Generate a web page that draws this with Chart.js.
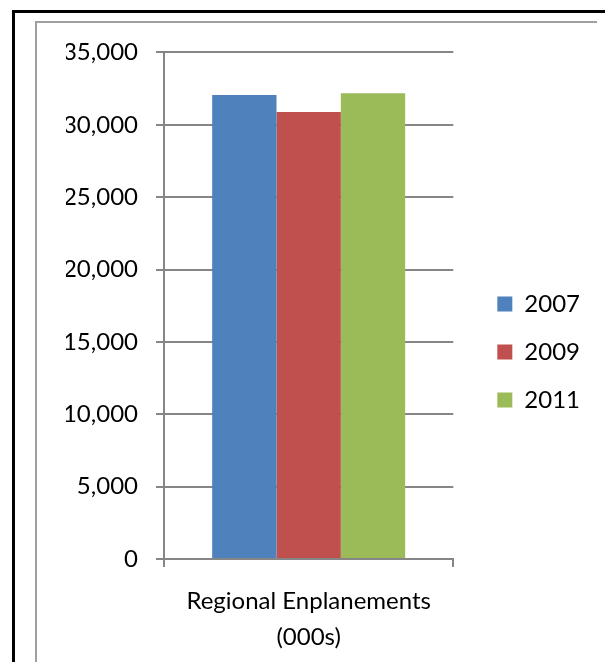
<!DOCTYPE html>
<html lang="en">
<head>
    <meta charset="UTF-8">
    <title>Regional Enplanements</title>
    <script src="https://cdn.jsdelivr.net/npm/chart.js"></script>
    <style>
        body {
            margin: 0;
            background: #fff;
            width: 605px;
            height: 662px;
            overflow: hidden;
            position: relative;
        }
        #outer {
            position: absolute;
            left: 12px;
            top: 10px;
            width: 600px;
            height: 660px;
            border-left: 3px solid #000;
            border-top: 3px solid #000;
        }
        #inner {
            position: absolute;
            left: 35px;
            top: 21px;
            width: 560px;
            height: 640px;
            border-left: 2px solid #a0a0a0;
            border-top: 2px solid #a0a0a0;
        }
        #box {
            position: absolute;
            left: 38px;
            top: 20px;
            width: 558px;
            height: 651px;
        }
    </style>
</head>
<body>
    <div id="outer"></div>
    <div id="inner"></div>
    <div id="box"><canvas id="chart"></canvas></div>

    <script>
        // data
        const categories = [['Regional Enplanements', '(000s)']];
        const years = ['2007', '2009', '2011'];
        const values2007 = [32050];
        const values2009 = [30880];
        const values2011 = [32180];
        const colors = ['#4F81BD', '#C0504D', '#9BBB59'];

        const gridColor = '#868686';
        const font = { family: 'Lato, "DejaVu Sans", sans-serif', size: 24 };

        // moves the legend a bit to the right, away from the plot
        const legendShift = {
            id: 'legendShift',
            afterLayout(chart) {
                const l = chart.legend;
                if (l) {
                    l.left += 20;
                    l.right += 20;
                    l.top += 3;
                    l.bottom += 3;
                }
            }
        };

        const ctx = document.getElementById('chart').getContext('2d');
        new Chart(ctx, {
            type: 'bar',
            data: {
                labels: categories,
                datasets: [
                    { label: years[0], data: values2007, backgroundColor: colors[0] },
                    { label: years[1], data: values2009, backgroundColor: colors[1] },
                    { label: years[2], data: values2011, backgroundColor: colors[2] }
                ]
            },
            options: {
                responsive: true,
                maintainAspectRatio: false,
                animation: false,
                layout: { padding: { left: 28, top: 7, right: 26, bottom: 0 } },
                datasets: {
                    bar: { categoryPercentage: 0.667, barPercentage: 1.0 }
                },
                plugins: {
                    legend: {
                        position: 'right',
                        labels: {
                            boxWidth: 15,
                            boxHeight: 15,
                            padding: 24,
                            color: '#000',
                            font: font
                        }
                    },
                    tooltip: { enabled: false }
                },
                scales: {
                    x: {
                        grid: {
                            drawOnChartArea: false,
                            drawTicks: true,
                            tickLength: 8,
                            color: gridColor,
                            lineWidth: 2
                        },
                        border: { color: gridColor, width: 2 },
                        ticks: { color: '#000', font: { ...font, lineHeight: 1.5 }, padding: 16 }
                    },
                    y: {
                        min: 0,
                        max: 35000,
                        afterFit: s => { s.width = 98; },
                        ticks: {
                            stepSize: 5000,
                            color: '#000',
                            font: font,
                            padding: 18,
                            callback: v => v.toLocaleString('en-US')
                        },
                        grid: { color: gridColor, lineWidth: 2, tickLength: 8 },
                        border: { color: gridColor, width: 2 }
                    }
                }
            },
            plugins: [legendShift]
        });
    </script>
</body>
</html>
